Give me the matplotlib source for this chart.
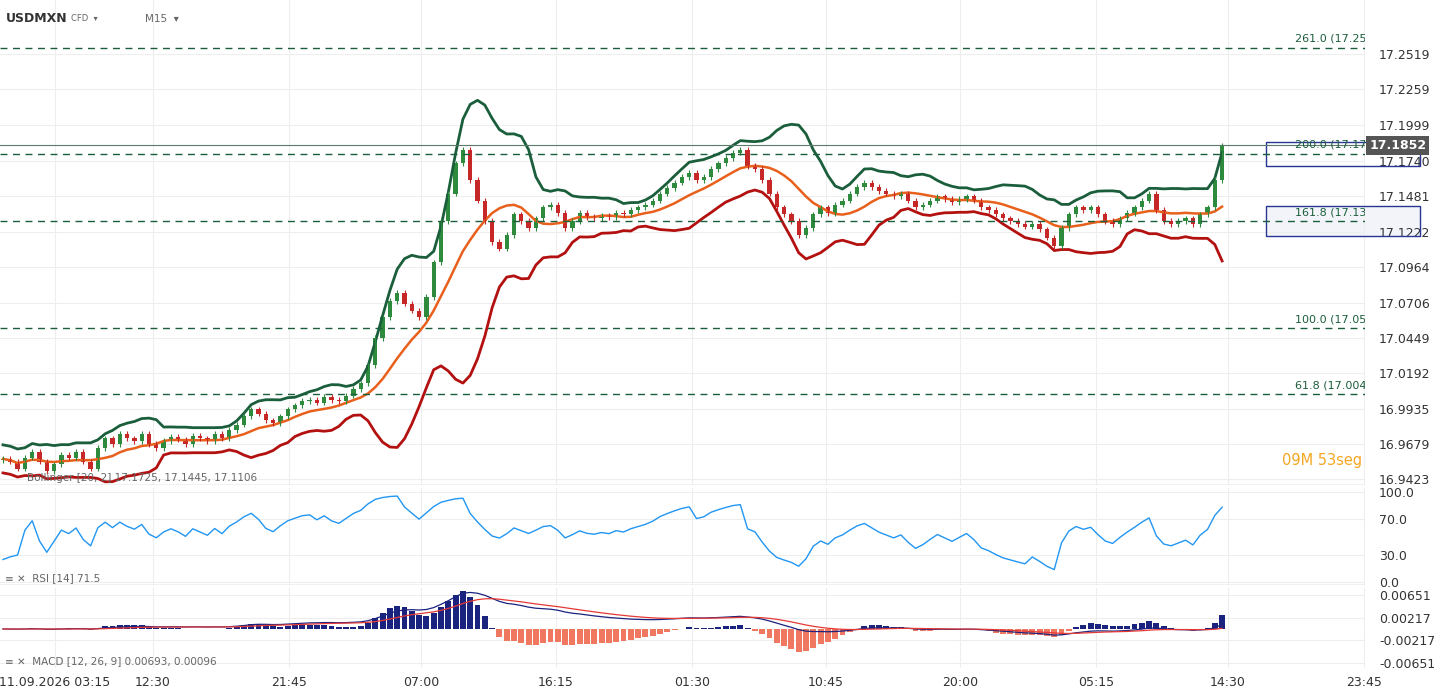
import numpy as np
import pandas as pd
import matplotlib
matplotlib.use("Agg")
import matplotlib.pyplot as plt
from matplotlib.patches import Rectangle

closes = [16.957,16.955,16.950,16.958,16.962,16.955,16.948,16.953,16.960,16.958,16.962,16.955,16.950,16.965,
16.972,16.968,16.975,16.972,16.970,16.975,16.968,16.965,16.970,16.973,16.971,16.968,16.974,16.972,16.970,16.975,16.972,
16.978,16.982,16.988,16.993,16.990,16.985,16.983,16.988,16.993,16.996,16.999,17.000,16.998,17.002,17.000,16.999,
17.003,17.008,17.012,17.025,17.045,17.060,17.072,17.078,17.070,17.065,17.060,17.075,17.100,17.130,
17.150,17.172,17.182,17.160,17.145,17.130,17.115,17.110,17.120,17.135,
17.130,17.125,17.132,17.140,17.142,17.136,17.125,17.130,17.136,17.133,17.132,17.134,17.133,17.136,17.135,
17.138,17.140,17.142,17.145,17.150,17.154,17.158,17.162,17.165,17.160,17.162,17.168,17.172,17.176,17.180,17.182,17.170,17.168,
17.160,17.150,17.140,17.135,17.130,17.120,17.125,17.135,17.140,17.136,17.142,17.145,17.150,17.155,17.158,
17.155,17.152,17.150,17.148,17.150,17.145,17.140,17.142,17.145,17.148,17.146,17.144,17.146,17.148,17.145,17.140,17.138,17.135,17.132,17.130,17.128,17.126,
17.128,17.124,17.118,17.112,17.125,17.135,17.140,17.138,17.140,17.135,17.130,17.128,17.132,17.136,17.140,17.145,17.150,17.138,17.130,17.128,17.130,17.132,17.128,17.135,17.140,17.160,17.185]
fib_levels = [17.256, 17.179, 17.130, 17.052, 17.004]
fib_labels = ["261.0 (17.256", "200.0 (17.179", "161.8 (17.130", "100.0 (17.052", "61.8 (17.004"]
price_ticks = [17.2519,17.2259,17.1999,17.1740,17.1481,17.1222,17.0964,17.0706,17.0449,17.0192,16.9935,16.9679,16.9423]
time_labels = ["11.09.2026 03:15","12:30","21:45","07:00","16:15","01:30","10:45","20:00","05:15","14:30","23:45"]
time_px = [55,153,289,421,556,692,826,960,1096,1228,1364]
last_price = 17.1852

c = pd.Series(closes)
o = c.shift(1).fillna(c.iloc[0]-0.001)
x = np.arange(len(c))
mid = c.rolling(10, min_periods=1).mean()
sd = c.rolling(10, min_periods=3).std().bfill()
up = mid + 2*sd + 0.003
lo = mid - 2*sd - 0.003
d = c.diff().fillna(0)
g = d.clip(lower=0).ewm(alpha=1/8).mean(); l = (-d.clip(upper=0)).ewm(alpha=1/8).mean()
rsi = (100 - 100/(1+g/(l+1e-9)))
rsi.iloc[:3] = [25, 28, 30]
macd = c.ewm(span=12).mean() - c.ewm(span=26).mean()
sig = macd.ewm(span=9).mean()
hist = macd - sig

W, H = 1434, 694
fig = plt.figure(figsize=(W/100, H/100), dpi=100)
def ax_px(top, bot):
    return fig.add_axes([0, 1-bot/H, 1365/W, (bot-top)/H])
def xi(px): return (px-3)/7.3
xl = (xi(0), xi(1365))
ax = ax_px(0, 485); ar = ax_px(488, 585); am = ax_px(588, 668)
for a in (ax, ar, am):
    a.set_xlim(*xl)
    for s in a.spines.values(): s.set_visible(False)
    a.yaxis.tick_right()
    a.tick_params(axis='y', length=0, labelsize=9, labelcolor='#333333', pad=10)
    a.set_xticks([xi(p) for p in time_px])
    a.grid(True, color='#eeeeee', lw=0.8)
    a.set_axisbelow(True)
    a.tick_params(axis='x', length=0, labelbottom=False)

ax.set_ylim(16.938, 17.291)
ax.set_yticks(price_ticks); ax.set_yticklabels([f"{t:.4f}" for t in price_ticks])
ax.axhline(16.938, color='#bbbbbb', lw=1)
ax.plot(x, up, color='#1b5e3b', lw=2)
ax.plot(x, mid, color='#e8601c', lw=1.8)
ax.plot(x, lo, color='#b31010', lw=2)
for i in range(len(c)):
    oo, cc = o.iloc[i], c.iloc[i]
    col = '#2e8b3e' if cc >= oo else '#c62828'
    hi = max(oo, cc) + 0.002; lw_ = min(oo, cc) - 0.002
    ax.vlines(x[i], lw_, hi, color=col, lw=0.8)
    ax.bar(x[i], max(abs(cc-oo), 0.0006), bottom=min(oo, cc), width=0.6, color=col)
for lv, lb in zip(fib_levels, fib_labels):
    ax.axhline(lv, color='#1b5e3b', lw=1, ls=(0, (5, 4)))
    ax.text(xi(1295), lv+0.003, lb, fontsize=8, color='#1b5e3b', va='bottom', clip_on=True)
bw = xi(1420) - xi(1266)
ax.add_patch(Rectangle((xi(1266), 17.1190), bw, 17.1410-17.1190, fc='#e8eaf6', ec='none', alpha=0.5, clip_on=False, zorder=0))
for top, bot in [(17.1880, 17.1705), (17.1410, 17.1190)]:
    ax.add_patch(Rectangle((xi(1266), bot), bw, top-bot, fill=False, ec='#283593', lw=1, clip_on=False))
ax.axhline(last_price, color='#5a7a6a', lw=0.8)
ax.text(1.003, last_price, f"{last_price:.4f}", transform=ax.get_yaxis_transform(), fontsize=9,
        color='white', fontweight='bold', va='center', bbox=dict(boxstyle='square,pad=0.25', fc='#555555', ec='none'))
ax.text(0.004, 0.975, "USDMXN", transform=ax.transAxes, fontsize=9, fontweight='bold', color='#333333', va='top')
ax.text(0.052, 0.972, "CFD  ▾", transform=ax.transAxes, fontsize=6, color='#666666', va='top')
ax.text(0.106, 0.972, "M15  ▾", transform=ax.transAxes, fontsize=7.5, color='#666666', va='top')
ax.text(0.998, 0.035, "09M 53seg", transform=ax.transAxes, fontsize=10.5, color='#f5a623', ha='right', va='bottom')
ax.text(0.02, 0.005, "Bollinger [20, 2] 17.1725, 17.1445, 17.1106", transform=ax.transAxes, fontsize=7.5, color='#666666', va='bottom')

ar.set_ylim(-3.3, 104.4)
ar.set_yticks([0, 30, 70, 100]); ar.set_yticklabels(["0.0", "30.0", "70.0", "100.0"])
ar.plot(x, rsi, color='#2196f3', lw=1)
ar.axhline(-3.3, color='#bbbbbb', lw=1)
ar.text(0.004, 0.02, "≡ ✕  RSI [14] 71.5", transform=ar.transAxes, fontsize=7.5, color='#666666', va='bottom')

am.set_ylim(-0.00747, 0.00785)
mt = [0.00651, 0.00217, -0.00217, -0.00651]
am.set_yticks(mt); am.set_yticklabels(["0.00651", "0.00217", "-0.00217", "-0.00651"])
hs = hist/abs(hist).max()*0.0072
lsc = 0.0070/abs(macd).max()
am.bar(x, hs, width=0.8, color=np.where(hs >= 0, '#1a237e', '#f07860'))
am.plot(x, macd*lsc, color='#1a237e', lw=0.9)
am.plot(x, sig*lsc, color='#e53935', lw=0.9)
am.text(0.004, 0.02, "≡ ✕  MACD [12, 26, 9] 0.00693, 0.00096", transform=am.transAxes, fontsize=7.5, color='#666666', va='bottom')
am.set_xticklabels(time_labels)
am.tick_params(axis='x', labelbottom=True, labelsize=9, labelcolor='#333333', pad=6)
fig.savefig("out.png", dpi=100)
